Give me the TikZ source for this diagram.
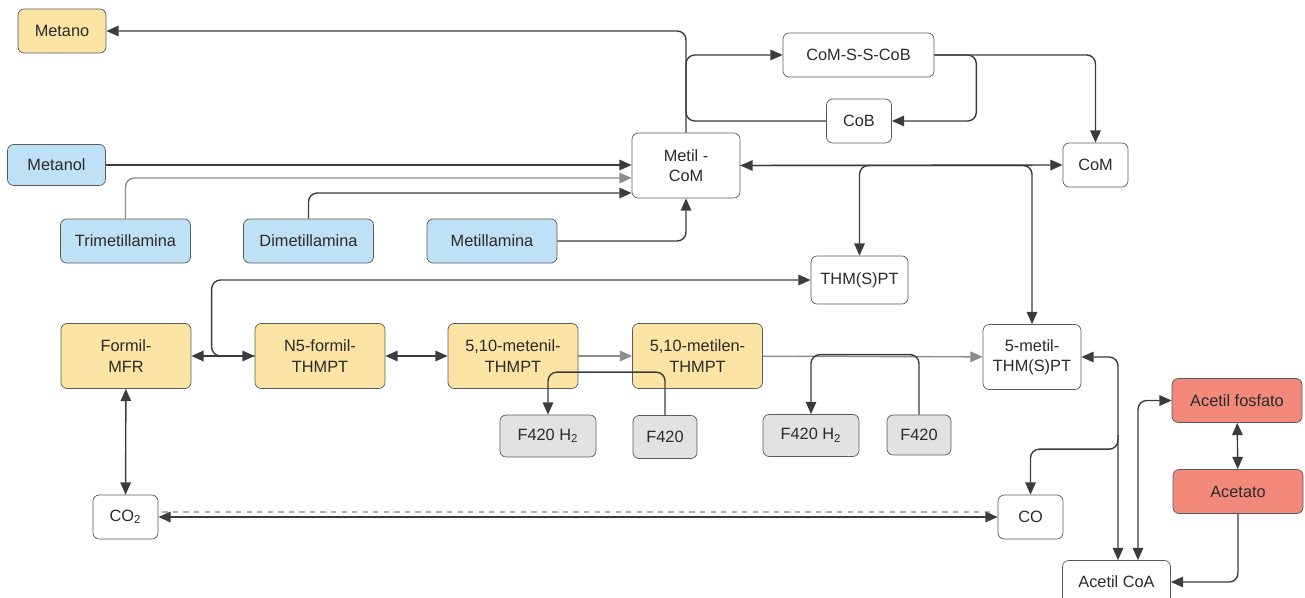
\documentclass[tikz,border=0pt]{standalone}
\usepackage{fontspec}
\setmainfont{Liberation Sans}
\usepackage{tikz}
\usetikzlibrary{arrows.meta,calc,positioning}
\definecolor{azulc}{HTML}{BFE1F5}
\definecolor{amarc}{HTML}{FCE4A4}
\definecolor{rojoc}{HTML}{F2897B}
\definecolor{grisc}{HTML}{E2E2E2}
\definecolor{bordc}{HTML}{5A5A5A}
\definecolor{linec}{HTML}{3C3C3C}
\definecolor{clarac}{HTML}{8C8C8C}
\definecolor{txtc}{HTML}{2A2A2A}

\begin{document}
\begin{tikzpicture}[x=0.02cm,y=-0.02cm,
every node/.style={draw=bordc, rounded corners=3.5pt, align=center, inner sep=1pt, text=txtc, font=\fontsize{9.3}{11.5}\selectfont},
azul/.style={fill=azulc}, amar/.style={fill=amarc}, rojo/.style={fill=rojoc}, gris/.style={fill=grisc},
chica/.style={minimum width=1.3cm, minimum height=0.88cm},
larga/.style={minimum width=2.6cm, minimum height=0.88cm},
alta/.style={minimum width=2.6cm, minimum height=1.3cm},
arr/.style={-{Triangle[length=7pt,width=6pt]}, line width=0.8pt, draw=linec, rounded corners=5pt},
arrb/.style={{Triangle[length=7pt,width=6pt]}-{Triangle[length=7pt,width=6pt]}, line width=0.8pt, draw=linec, rounded corners=5pt},
clara/.style={draw=clarac}
]
\useasboundingbox (0,0) rectangle (1305,598);
\node[amar, minimum width=1.76cm, minimum height=0.88cm] (metano) at (62,31) {Metano};
\node[azul, minimum width=1.96cm, minimum height=0.82cm] (metanol) at (56.5,165) {Metanol};
\node[azul, larga] (trimet) at (125.5,241) {Trimetillamina};
\node[azul, larga] (dimet) at (308.5,241) {Dimetillamina};
\node[azul, larga] (metilam) at (492,241) {Metillamina};
\node[minimum width=2.16cm, minimum height=1.3cm] (metilcom) at (686,165.5) {Metil -\\CoM};
\node[minimum width=3.02cm, minimum height=0.88cm] (cossc) at (858.5,55) {CoM-S-S-CoB};
\node[chica] (cob) at (859,121) {CoB};
\node[chica] (com) at (1095.5,165) {CoM};
\node[minimum width=1.94cm, minimum height=0.96cm] (thms) at (859.5,280) {THM(S)PT};
\node[minimum width=1.96cm, minimum height=1.3cm] (metil5) at (1032,357) {5-metil-\\THM(S)PT};
\node[amar, alta] (formil) at (126,356) {Formil-\\MFR};
\node[amar, alta] (nformil) at (320,356) {N5-formil-\\THMPT};
\node[amar, alta] (metenil) at (513,356) {5,10-metenil-\\THMPT};
\node[amar, alta] (metilen) at (697.5,356) {5,10-metilen-\\THMPT};
\node[gris, minimum width=1.92cm, minimum height=0.84cm] (fh1) at (548,436) {F420 H\textsubscript{2}};
\node[gris, minimum width=1.28cm, minimum height=0.86cm] (fa) at (665,437) {F420};
\node[gris, minimum width=1.92cm, minimum height=0.84cm] (fh2) at (811,435.5) {F420 H\textsubscript{2}};
\node[gris, minimum width=1.28cm, minimum height=0.8cm] (fb) at (919,435) {F420};
\node[chica] (co2) at (125.5,517) {CO\textsubscript{2}};
\node[chica] (co) at (1030.5,517) {CO};
\node[rojo, larga] (acfos) at (1237,400.5) {Acetil fosfato};
\node[rojo, larga] (acetato) at (1238,491.5) {Acetato};
\node[minimum width=2.16cm, minimum height=0.86cm] (acoa) at (1116.5,582) {Acetil CoA};

\draw[arr] (metilcom.north) |- (metano.east);
\draw[arr] (cob.west) -| (metilcom.north |- cossc.west) -- (cossc.west);
\draw[arr] (cossc.east) -- ++(42,0) |- (cob.east);
\draw[arr] (cossc.east) -| (com.north);
\draw[arr] (metanol.east) -- (metilcom.west |- metanol.east);
\draw[arr, clara] (trimet.north) |- ($(metilcom.west)+(0,12.5)$);
\draw[arr] (dimet.north) |- ($(metilcom.west)+(0,27.5)$);
\draw[arr] (metilam.east) -| (metilcom.south);
\draw[arrb] (metilcom.east) -- (com.west);
\draw[arr] (metilcom.east) -| (metil5.north);
\draw[arr] (metil5.north |- metilcom.east) -| (thms.north);
\draw[arrb] (formil) -- (nformil);
\draw[arr] (nformil.west) -- ++(-43,0) |- (thms.west);
\draw[arrb] (nformil) -- (metenil);
\draw[arr, clara] (metenil) -- (metilen);
\draw[arr] (fa.north) -- ++(0,-43) -| (fh1.north);
\draw[arr, clara] (metilen) -- (metil5);
\draw[arr] (fb.north) -- ++(0,-60) -| (fh2.north);
\draw[arrb] (formil) -- (co2);
\draw[dashed, line width=0.7pt, draw=clarac!70] ($(co2.east)+(4,-5)$) -- ($(co.west)+(-4,-5)$);
\draw[arrb] (co2) -- (co);
\draw[arrb] (metil5.east) -| ($(acoa.north)+(1.5,0)$);
\draw[arr] ($(acoa.north)+(1.5,-125)$) -- ($(acoa.north)+(1.5,-111)$) -| (co.north);
\draw[arrb] ($(acoa.north)+(21.5,0)$) |- (acfos.west);
\draw[arrb] (acfos) -- (acetato);
\draw[arr] (acetato.south) |- (acoa.east);
\end{tikzpicture}
\end{document}
